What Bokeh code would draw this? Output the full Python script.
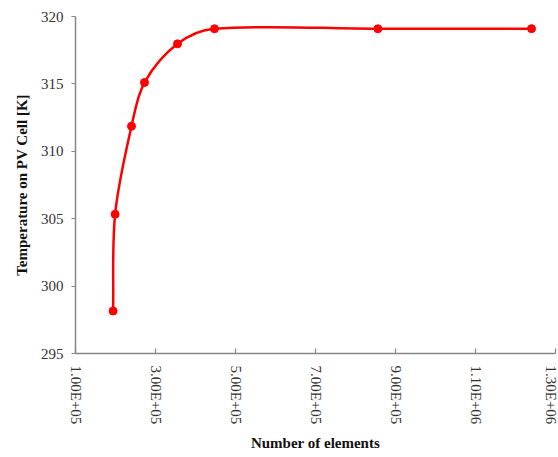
import numpy as np
from bokeh.plotting import figure
from bokeh.models import FixedTicker, Range1d
from bokeh.embed import file_html
from bokeh.resources import INLINE

# Data
elements = [194000, 199000, 240000, 272500, 355000, 447500, 856000, 1240000]
temperature = [298.15, 305.33, 311.86, 315.10, 317.97, 319.09, 319.09, 319.10]

x_ticks = [100000, 300000, 500000, 700000, 900000, 1100000, 1300000]
x_tick_labels = ["1.00E+05", "3.00E+05", "5.00E+05", "7.00E+05", "9.00E+05", "1.10E+06", "1.30E+06"]
y_ticks = [295, 300, 305, 310, 315, 320]

FONT = "Liberation Serif"
FW, FH = 480, 337
XMIN, XMAX, YMIN, YMAX = 100000, 1300000, 295, 320

p = figure(frame_width=FW, frame_height=FH, output_backend="svg", toolbar_location=None,
           x_range=Range1d(XMIN, XMAX), y_range=Range1d(YMIN, YMAX),
           min_border_left=75, min_border_right=3, min_border_top=16, min_border_bottom=104)
p.outline_line_color = None
p.xgrid.visible = False
p.ygrid.visible = False

# Smooth curve: Bezier segments with length-weighted Catmull-Rom tangents
x = np.array(elements, dtype=float)
y = np.array(temperature, dtype=float)
sx, sy = FW / (XMAX - XMIN), FH / (YMAX - YMIN)
n = len(x)
xp = np.concatenate([[x[0]], x, [x[-1]]])
yp = np.concatenate([[y[0]], y, [y[-1]]])
d = np.hypot(np.diff(xp) * sx, np.diff(yp) * sy)
d = np.where(d == 0, 1e-9, d)
cx0 = []; cy0 = []; cx1 = []; cy1 = []
for i in range(n - 1):
    k = i + 1
    tx = xp[k + 1] - xp[k - 1]; ty = yp[k + 1] - yp[k - 1]
    f = d[k] / (d[k - 1] + d[k]) / 3.0
    cx0.append(xp[k] + tx * f); cy0.append(yp[k] + ty * f)
    k2 = i + 2
    tx = xp[k2 + 1] - xp[k2 - 1]; ty = yp[k2 + 1] - yp[k2 - 1]
    f = d[k2 - 1] / (d[k2 - 1] + d[k2]) / 3.0
    cx1.append(xp[k2] - tx * f); cy1.append(yp[k2] - ty * f)

p.bezier(x0=x[:-1], y0=y[:-1], x1=x[1:], y1=y[1:], cx0=cx0, cy0=cy0, cx1=cx1, cy1=cy1,
         line_color="#FF0000", line_width=2.5)
p.scatter(elements, temperature, size=8, color="#FF0000")

# Axes
for ax in (p.xaxis[0], p.yaxis[0]):
    ax.axis_line_color = "#868686"
    ax.axis_line_width = 1.5
    ax.major_tick_line_color = "#868686"
    ax.major_tick_line_width = 1.2
    ax.minor_tick_line_color = None
    ax.major_label_text_font = FONT
    ax.major_label_text_font_size = "15px"
    ax.major_label_text_color = "#333333"
    ax.axis_label_text_font = FONT
    ax.axis_label_text_font_size = "15px"
    ax.axis_label_text_font_style = "bold"
    ax.axis_label_text_color = "#111111"

p.xaxis.ticker = FixedTicker(ticks=x_ticks)
p.xaxis.major_label_overrides = {t: l for t, l in zip(x_ticks, x_tick_labels)}
p.xaxis.major_label_orientation = -np.pi / 2
p.xaxis.major_tick_in = 5
p.xaxis.major_tick_out = 0
p.xaxis.major_label_standoff = 12
p.xaxis.axis_label = "Number of elements"
p.xaxis.axis_label_standoff = 8

p.yaxis.ticker = FixedTicker(ticks=y_ticks)
p.yaxis.major_tick_in = 0
p.yaxis.major_tick_out = 4
p.yaxis.major_label_standoff = 8
p.yaxis.axis_label = "Temperature on PV Cell [K]"
p.yaxis.axis_label_standoff = 8

open("out.html", "w").write(file_html(p, INLINE))
